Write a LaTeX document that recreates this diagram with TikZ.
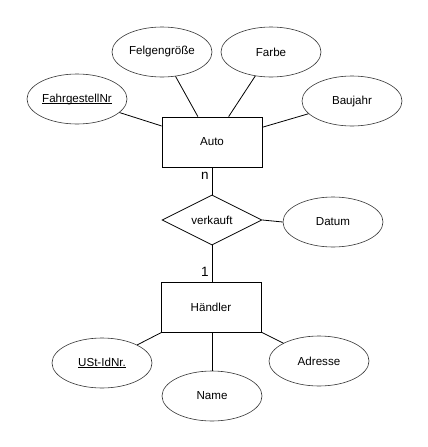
\documentclass[tikz,border=0pt]{standalone}
\usepackage{fontspec}
\setmainfont{Liberation Sans}
\usetikzlibrary{shapes.geometric}
% underline that sits just below the baseline, crossing descenders
\newcommand\keyattr[1]{\setbox0\hbox{#1}\rlap{\rule[-1.4pt]{\wd0}{0.6pt}}\box0}
\begin{document}
\begin{tikzpicture}[x=1pt,y=-1pt,
  every node/.style={font=\fontsize{11.6}{13}\selectfont, inner sep=0pt},
  entity/.style={draw, line width=0.8pt, minimum width=100pt, minimum height=50pt},
  attr/.style={draw, ellipse, line width=0.6pt, draw=black!80, minimum width=100pt, minimum height=50pt},
  rel/.style={draw, diamond, line width=0.8pt, minimum width=100pt, minimum height=50pt},
  link/.style={line width=0.8pt},
  card/.style={font=\fontsize{13.5}{15}\selectfont}]
\useasboundingbox (0,0) rectangle (428,447);

% entities
\node[entity] (auto) at (212,142) {Auto};
\node[entity] (haendler) at (211,307) {Händler};

% relationship
\node[rel, shape aspect=2] (verkauft) at (212,220) {verkauft};

% attributes of Auto
\node[attr] (fahrgestell) at (77,99) {\keyattr{FahrgestellNr}};
\node[attr] (felgen) at (162,52) {Felgengröße};
\node[attr] (farbe) at (271,52) {Farbe};
\node[attr] (baujahr) at (352,101) {Baujahr};

% attribute of the relationship
\node[attr] (datum) at (333,222) {Datum};

% attributes of Händler
\node[attr] (ustid) at (102,363) {\keyattr{USt-IdNr.}};
\node[attr] (name) at (212,396) {Name};
\node[attr] (adresse) at (319,361) {Adresse};

% connectors
\draw[link] (fahrgestell) -- (auto);
\draw[link] (felgen) -- (auto);
\draw[link] (farbe) -- (auto);
\draw[link] (baujahr) -- (auto);
\draw[link] (auto.south) -- (verkauft.north);
\draw[link] (verkauft.east) -- (datum.west);
\draw[link] (verkauft.south) -- (verkauft.south |- haendler.north);
\draw[link] (haendler) -- (ustid);
\draw[link] (haendler.south -| name.north) -- (name.north);
\draw[link] (haendler) -- (adresse);

% cardinalities
\node[card] (cardn) at (205,176) {n};
\node[card] (card1) at (205,272) {1};
\end{tikzpicture}
\end{document}
